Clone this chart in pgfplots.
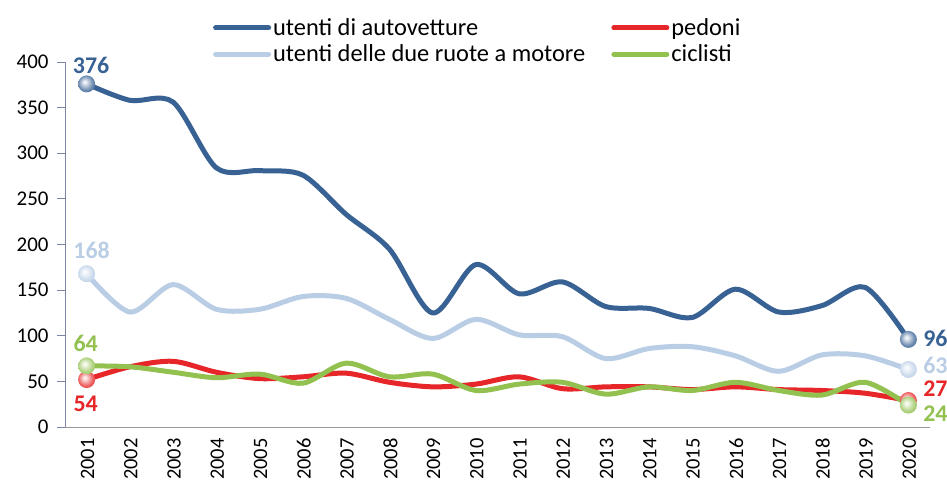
\documentclass[border=0pt]{standalone}
\usepackage{fontspec}
\setmainfont{Carlito}
\usepackage{pgfplots}
\pgfplotsset{compat=1.18}
\usetikzlibrary{plotmarks}
\definecolor{cAuto}{RGB}{56,97,148}
\definecolor{cMoto}{RGB}{185,205,229}
\definecolor{cPed}{RGB}{230,38,40}
\definecolor{cCic}{RGB}{146,193,80}
\definecolor{cAxis}{RGB}{125,132,168}
\newcommand\mkball[1]{%
  \pgfdeclareradialshading{ball#1}{\pgfqpoint{-6bp}{6bp}}{%
    color(0bp)=(white); color(5bp)=(white!85!#1); color(22bp)=(#1!75!white);
    color(38bp)=(#1); color(50bp)=(#1!80!black)}%
  \pgfdeclareplotmark{ball#1}{%
    \pgfpathcircle{\pgfpointorigin}{\pgfplotmarksize}%
    \pgfshadepath{ball#1}{0}\pgfusepath{}}}
\mkball{cAuto}\mkball{cMoto}\mkball{cPed}\mkball{cCic}
\begin{document}
\begin{tikzpicture}
\path[use as bounding box] (0,0) rectangle (947bp,480bp);
\begin{axis}[
  at={(65bp,53bp)}, anchor=south west,
  scale only axis, width=865bp, height=365bp,
  xmin=2000.5, xmax=2020.5, ymin=0, ymax=400,
  axis x line*=bottom, axis y line*=left,
  x axis line style={-, draw=gray!80, line width=0.8bp},
  y axis line style={-, draw=cAxis, line width=0.8bp},
  xtick={2001,...,2020}, ytick={0,50,...,400},
  xtick style={draw=none},
  ytick style={draw=cAxis, line width=0.8bp},
  tick align=outside, major tick length=8bp,
  /pgf/number format/assume math mode=true,
  /pgf/number format/1000 sep={},
  tick label style={font=\fontsize{21}{25}\selectfont, text=black},
  xticklabel style={rotate=90, anchor=east, yshift=-1bp, font=\fontsize{20.5}{24}\selectfont},
  yticklabel style={xshift=-5bp},
  clip=false,
  legend columns=2,
  legend cell align=left,
  legend style={draw=none, fill=none, at={(0.171,1.125)}, anchor=north west,
    inner sep=0pt, font=\fontsize{24.5}{28}\selectfont, row sep=4bp,
    /tikz/every even column/.append style={column sep=24bp}},
  legend image code/.code={\draw[line width=5bp, line cap=round] (0bp,0bp) -- (53bp,0bp);},
]
\addlegendimage{cAuto}\addlegendentry{utenti di autovetture}
\addlegendimage{cPed}\addlegendentry{pedoni}
\addlegendimage{cMoto}\addlegendentry{utenti delle due ruote a motore}
\addlegendimage{cCic}\addlegendentry{ciclisti}

\addplot[cAuto, line width=5bp, smooth, forget plot] coordinates {
(2001,376)(2002,358)(2003,356)(2004,284)(2005,281)(2006,276)(2007,233)(2008,195)(2009,125)(2010,178)
(2011,146)(2012,159)(2013,132)(2014,130)(2015,120)(2016,151)(2017,126)(2018,133)(2019,153)(2020,96)};
\addplot[cMoto, line width=5bp, smooth, forget plot] coordinates {
(2001,168)(2002,126)(2003,156)(2004,129)(2005,129)(2006,143)(2007,141)(2008,118)(2009,97)(2010,118)
(2011,101)(2012,99)(2013,75)(2014,86)(2015,88)(2016,78)(2017,61)(2018,79)(2019,78)(2020,63)};
\addplot[cPed, line width=5bp, smooth, forget plot] coordinates {
(2001,52)(2002,66)(2003,72)(2004,60)(2005,53)(2006,55)(2007,59)(2008,49)(2009,44)(2010,47)
(2011,55)(2012,42)(2013,44)(2014,44)(2015,41)(2016,44)(2017,41)(2018,40)(2019,37)(2020,29)};
\addplot[cCic, line width=5bp, smooth, forget plot] coordinates {
(2001,67)(2002,66)(2003,60)(2004,54)(2005,58)(2006,48)(2007,70)(2008,55)(2009,58)(2010,40)
(2011,47)(2012,49)(2013,36)(2014,44)(2015,40)(2016,49)(2017,40)(2018,35)(2019,49)(2020,24)};

\addplot[forget plot, only marks, mark=ballcAuto, mark size=8.5bp] coordinates {(2001,376)(2020,96)};
\addplot[forget plot, only marks, mark=ballcMoto, mark size=8.5bp] coordinates {(2001,168)(2020,63)};
\addplot[forget plot, only marks, mark=ballcPed, mark size=8.5bp] coordinates {(2001,52)(2020,29)};
\addplot[forget plot, only marks, mark=ballcCic, mark size=8.5bp] coordinates {(2001,67)(2020,24)};

\tikzset{lab/.style={font=\fontsize{24}{28}\selectfont\bfseries, anchor=center, inner sep=0pt}}
\node[lab, text=cAuto] at (axis cs:2001,376) [xshift=4.5bp, yshift=18bp] {376};
\node[lab, text=cMoto] at (axis cs:2001,168) [xshift=5bp, yshift=23bp] {168};
\node[lab, text=cCic] at (axis cs:2001,67) [xshift=-1bp, yshift=22bp] {64};
\node[lab, text=cPed] at (axis cs:2001,52) [xshift=-1bp, yshift=-24bp] {54};
\node[lab, text=cAuto] at (axis cs:2020,96) [xshift=27bp, yshift=1bp] {96};
\node[lab, text=cMoto] at (axis cs:2020,63) [xshift=27bp, yshift=4bp] {63};
\node[lab, text=cPed] at (axis cs:2020,29) [xshift=27bp, yshift=12bp] {27};
\node[lab, text=cCic] at (axis cs:2020,24) [xshift=27bp, yshift=-9bp] {24};
\end{axis}
\end{tikzpicture}
\end{document}
